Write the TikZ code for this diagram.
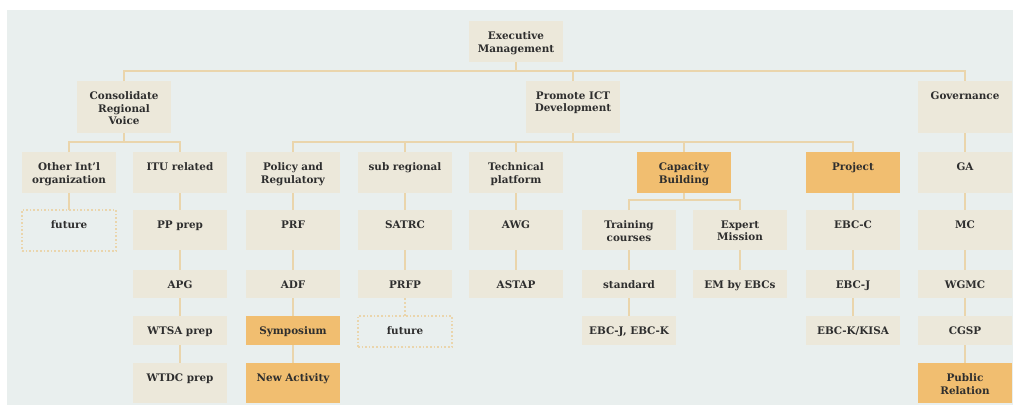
\documentclass[tikz,border=0pt]{standalone}
\usepackage{fontspec}
\setmainfont{DejaVu Serif}
\definecolor{bgc}{HTML}{E9EFEE}
\definecolor{boxc}{HTML}{ECE8DA}
\definecolor{hl}{HTML}{F1BE70}
\definecolor{ln}{HTML}{EAD5AC}
\definecolor{txtc}{HTML}{2E2E2E}
\begin{document}
\begin{tikzpicture}[x=1pt,y=-1pt,
  box/.style={fill=boxc, minimum width=94pt, minimum height=#1, anchor=north, inner sep=0pt, outer sep=0pt},
  box/.default=41pt,
  hbox/.style={box=#1, fill=hl},
  hbox/.default=41pt,
  fbox/.style={box=#1, fill=none, draw=ln, line width=1.6pt, dotted},
  fbox/.default=41pt,
  lab/.style={anchor=north, align=center, inner sep=0pt, outer sep=0pt, draw=none, fill=none, solid, yshift=-10.8pt,
    font=\bfseries\fontsize{10.4}{12.4}\selectfont, text=txtc},
  conn/.style={draw=ln, line width=2pt},
  dconn/.style={conn, dotted},
]
\useasboundingbox (0,0) rectangle (1013,405);
\fill[bgc] (7,10) rectangle (1013,405);

% helper levels
\coordinate (L1) at (0,71);
\coordinate (L2) at (0,142);
\coordinate (L3) at (0,200);

% level 1
\node[box=41pt, label={[lab]north:{Executive\\Management}}] (em) at (516,21) {};
% level 2
\node[box=52pt, label={[lab]north:{Consolidate\\Regional\\Voice}}] (crv) at (124,81) {};
\node[box=52pt, label={[lab]north:{Promote ICT\\Development}}] (promo) at (573,81) {};
\node[box=52pt, label={[lab]north:{Governance}}] (gov) at (965,81) {};
% level 3
\node[box, label={[lab]north:{Other Int'l\\organization}}] (oth) at (69,152) {};
\node[box, label={[lab]north:{ITU related}}] (itu) at (180,152) {};
\node[box, label={[lab]north:{Policy and\\Regulatory}}] (pol) at (293,152) {};
\node[box, label={[lab]north:{sub regional}}] (sub) at (405,152) {};
\node[box, label={[lab]north:{Technical\\platform}}] (tech) at (516,152) {};
\node[hbox, label={[lab]north:{Capacity\\Building}}] (cap) at (684,152) {};
\node[hbox, label={[lab]north:{Project}}] (proj) at (853,152) {};
\node[box, label={[lab]north:{GA}}] (ga) at (965,152) {};
% level 4
\node[fbox=41pt, label={[lab]north:{future}}] (fut1) at (69,210) {};
\node[box=40pt, label={[lab]north:{PP prep}}] (pp) at (180,210) {};
\node[box=40pt, label={[lab]north:{PRF}}] (prf) at (293,210) {};
\node[box=40pt, label={[lab]north:{SATRC}}] (satrc) at (405,210) {};
\node[box=40pt, label={[lab]north:{AWG}}] (awg) at (516,210) {};
\node[box=40pt, label={[lab]north:{Training\\courses}}] (train) at (629,210) {};
\node[box=40pt, label={[lab]north:{Expert\\Mission}}] (exp) at (740,210) {};
\node[box=40pt, label={[lab]north:{EBC-C}}] (ebcc) at (853,210) {};
\node[box=40pt, label={[lab]north:{MC}}] (mc) at (965,210) {};
% level 5
\node[box=28pt, label={[lab]north:{APG}}] (apg) at (180,270) {};
\node[box=28pt, label={[lab]north:{ADF}}] (adf) at (293,270) {};
\node[box=28pt, label={[lab]north:{PRFP}}] (prfp) at (405,270) {};
\node[box=28pt, label={[lab]north:{ASTAP}}] (astap) at (516,270) {};
\node[box=28pt, label={[lab]north:{standard}}] (std) at (629,270) {};
\node[box=28pt, label={[lab]north:{EM by EBCs}}] (emb) at (740,270) {};
\node[box=28pt, label={[lab]north:{EBC-J}}] (ebcj) at (853,270) {};
\node[box=28pt, label={[lab]north:{WGMC}}] (wgmc) at (965,270) {};
% level 6
\node[box=29pt, label={[lab]north:{WTSA prep}}] (wtsa) at (180,316) {};
\node[hbox=29pt, label={[lab]north:{Symposium}}] (sym) at (293,316) {};
\node[fbox=31pt, label={[lab]north:{future}}] (fut2) at (405,316) {};
\node[box=29pt, label={[lab]north:{EBC-J, EBC-K}}] (ebcjk) at (629,316) {};
\node[box=29pt, label={[lab]north:{EBC-K/KISA}}] (kisa) at (853,316) {};
\node[box=29pt, label={[lab]north:{CGSP}}] (cgsp) at (965,316) {};
% level 7
\node[box=40pt, label={[lab]north:{WTDC prep}}] (wtdc) at (180,363) {};
\node[hbox=40pt, label={[lab]north:{New Activity}}] (newact) at (293,363) {};
\node[hbox=40pt, label={[lab]north:{Public\\Relation}}] (pr) at (965,363) {};

% connectors level 1 -> 2
\draw[conn] (em.south) -- (em.south |- L1);
\draw[conn] (crv.north) -- (crv.north |- L1) -- (gov.north |- L1) -- (gov.north);
\draw[conn] (promo.north) -- (promo.north |- L1);
% level 2 -> 3
\draw[conn] (crv.south) -- (crv.south |- L2);
\draw[conn] (oth.north) -- (oth.north |- L2) -- (itu.north |- L2) -- (itu.north);
\draw[conn] (promo.south) -- (promo.south |- L2);
\draw[conn] (pol.north) -- (pol.north |- L2) -- (proj.north |- L2) -- (proj.north);
\draw[conn] (sub.north) -- (sub.north |- L2);
\draw[conn] (tech.north) -- (tech.north |- L2);
\draw[conn] (cap.north) -- (cap.north |- L2);
\draw[conn] (gov.south) -- (ga.north);
% capacity building split
\draw[conn] (cap.south) -- (cap.south |- L3);
\draw[conn] (train.north) -- (train.north |- L3) -- (exp.north |- L3) -- (exp.north);
% chains
\draw[conn] (oth.south) -- (fut1.north);
\draw[conn] (itu.south) -- (pp.north);
\draw[conn] (pp.south) -- (apg.north);
\draw[conn] (apg.south) -- (wtsa.north);
\draw[conn] (wtsa.south) -- (wtdc.north);
\draw[conn] (pol.south) -- (prf.north);
\draw[conn] (prf.south) -- (adf.north);
\draw[conn] (adf.south) -- (sym.north);
\draw[conn] (sym.south) -- (newact.north);
\draw[conn] (sub.south) -- (satrc.north);
\draw[conn] (satrc.south) -- (prfp.north);
\draw[dconn] (prfp.south) -- (fut2.north);
\draw[conn] (tech.south) -- (awg.north);
\draw[conn] (awg.south) -- (astap.north);
\draw[conn] (train.south) -- (std.north);
\draw[conn] (std.south) -- (ebcjk.north);
\draw[conn] (exp.south) -- (emb.north);
\draw[conn] (proj.south) -- (ebcc.north);
\draw[conn] (ebcc.south) -- (ebcj.north);
\draw[conn] (ebcj.south) -- (kisa.north);
\draw[conn] (ga.south) -- (mc.north);
\draw[conn] (mc.south) -- (wgmc.north);
\draw[conn] (wgmc.south) -- (cgsp.north);
\draw[conn] (cgsp.south) -- (pr.north);
\end{tikzpicture}
\end{document}
